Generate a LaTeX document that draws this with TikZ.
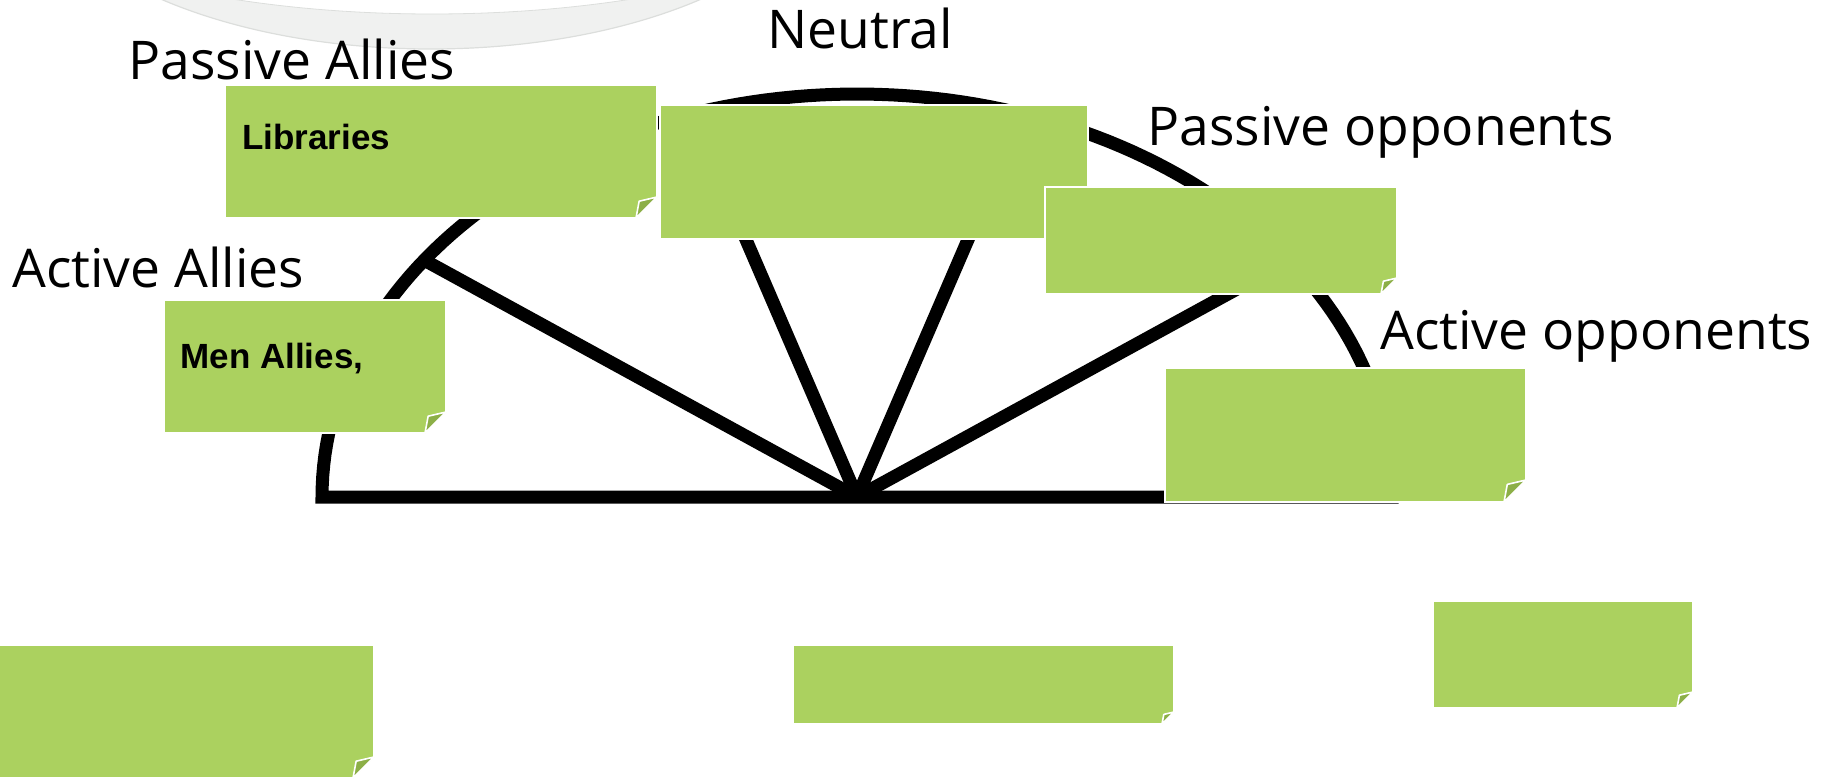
\documentclass[tikz,border=0pt]{standalone}
\usepackage{fontspec}
\setmainfont{Open Sans}
\newfontfamily\notefont{Liberation Sans}

\definecolor{notegreen}{HTML}{ABD15F}
\definecolor{notefold}{HTML}{8CAF47}
\definecolor{ringgrey}{HTML}{F0F1F0}
\definecolor{ringedge}{HTML}{DCDEDC}

% sticky note: name, left, top, right, bottom, size of the curled corner
\newcommand\stickynote[6]{%
  \path[notebody] (#2,#3) -- (#4,#3) -- (#4,{#5-#6}) -- ({#4-#6},#5) -- (#2,#5) -- cycle;
  \path[notecurl] (#4,{#5-#6}) -- ({#4-0.85*#6},{#5-0.8*#6}) -- ({#4-#6},#5) -- cycle;
  \coordinate (#1) at (#2,#3);
}

\begin{document}
\begin{tikzpicture}[x=0.5pt,y=-0.5pt,
  notebody/.style={fill=notegreen, draw=white, line width=0.8pt, line join=miter},
  notecurl/.style={fill=notefold, draw=white, line width=0.8pt, line join=round},
  wheel/.style={draw=black, line width=6.5pt},
  rolelabel/.style={anchor=base west, inner sep=0pt, font=\fontsize{26.7}{30}\selectfont},
  notetext/.style={anchor=base west, inner sep=0pt, font=\notefont\bfseries\fontsize{17.5}{20}\selectfont}]

\useasboundingbox (0,0) rectangle (1828,781);

% faint grey ring at the top edge
\begin{scope}
  \clip (0,0) rectangle (1828,781);
  \fill[ringgrey, even odd rule]
    (431,-150) ellipse [x radius=408, y radius=199]
    (432,-150) ellipse [x radius=478, y radius=164];
  \draw[ringedge, line width=0.6pt] (431,-150) ellipse [x radius=408, y radius=199];
  \draw[ringedge, line width=0.4pt] (432,-150) ellipse [x radius=478, y radius=164];
\end{scope}

% half wheel with four spokes
\coordinate (hub) at (857,497);
\coordinate (rim36)  at ({857+535*cos(36)},{497-403*sin(36)});
\coordinate (rim72)  at ({857+535*cos(72)},{497-403*sin(72)});
\coordinate (rim108) at ({857+535*cos(108)},{497-403*sin(108)});
\coordinate (rim144) at ({857+535*cos(144)},{497-403*sin(144)});
\draw[wheel, line join=miter]
  plot[domain=0:180, samples=120] ({857+535*cos(\x)},{497-403*sin(\x)}) -- cycle;
\foreach \r in {rim36,rim72,rim108,rim144}
  \draw[wheel] (hub) -- (\r);

% sticky notes
\stickynote{lib}{225}{85}{657}{218}{21}
\stickynote{neu}{660}{105}{1088}{239}{21}
\stickynote{popp}{1045}{187}{1397}{294}{16}
\stickynote{men}{164}{300}{446}{433}{21}
\stickynote{aopp}{1165}{368}{1526}{502}{22}
\stickynote{lowl}{-2}{645}{374}{778}{21}
\stickynote{lowm}{793}{645}{1174}{724}{12}
\stickynote{lowr}{1433}{601}{1693}{708}{16}

% texts on the notes
\node[notetext] (libtext) at (242,150) {Libraries};
\node[notetext] (mentext) at (180,368) {Men Allies,};

% group labels
\node[rolelabel] (passallies) at (128,80)  {Passive Allies};
\node[rolelabel] (neutral)    at (767,49)  {Neutral};
\node[rolelabel] (passopp)    at (1147,146) {Passive opponents};
\node[rolelabel] (actallies)  at (12,287)  {Active Allies};
\node[rolelabel] (actopp)     at (1380,350) {Active opponents};
\end{tikzpicture}
\end{document}
